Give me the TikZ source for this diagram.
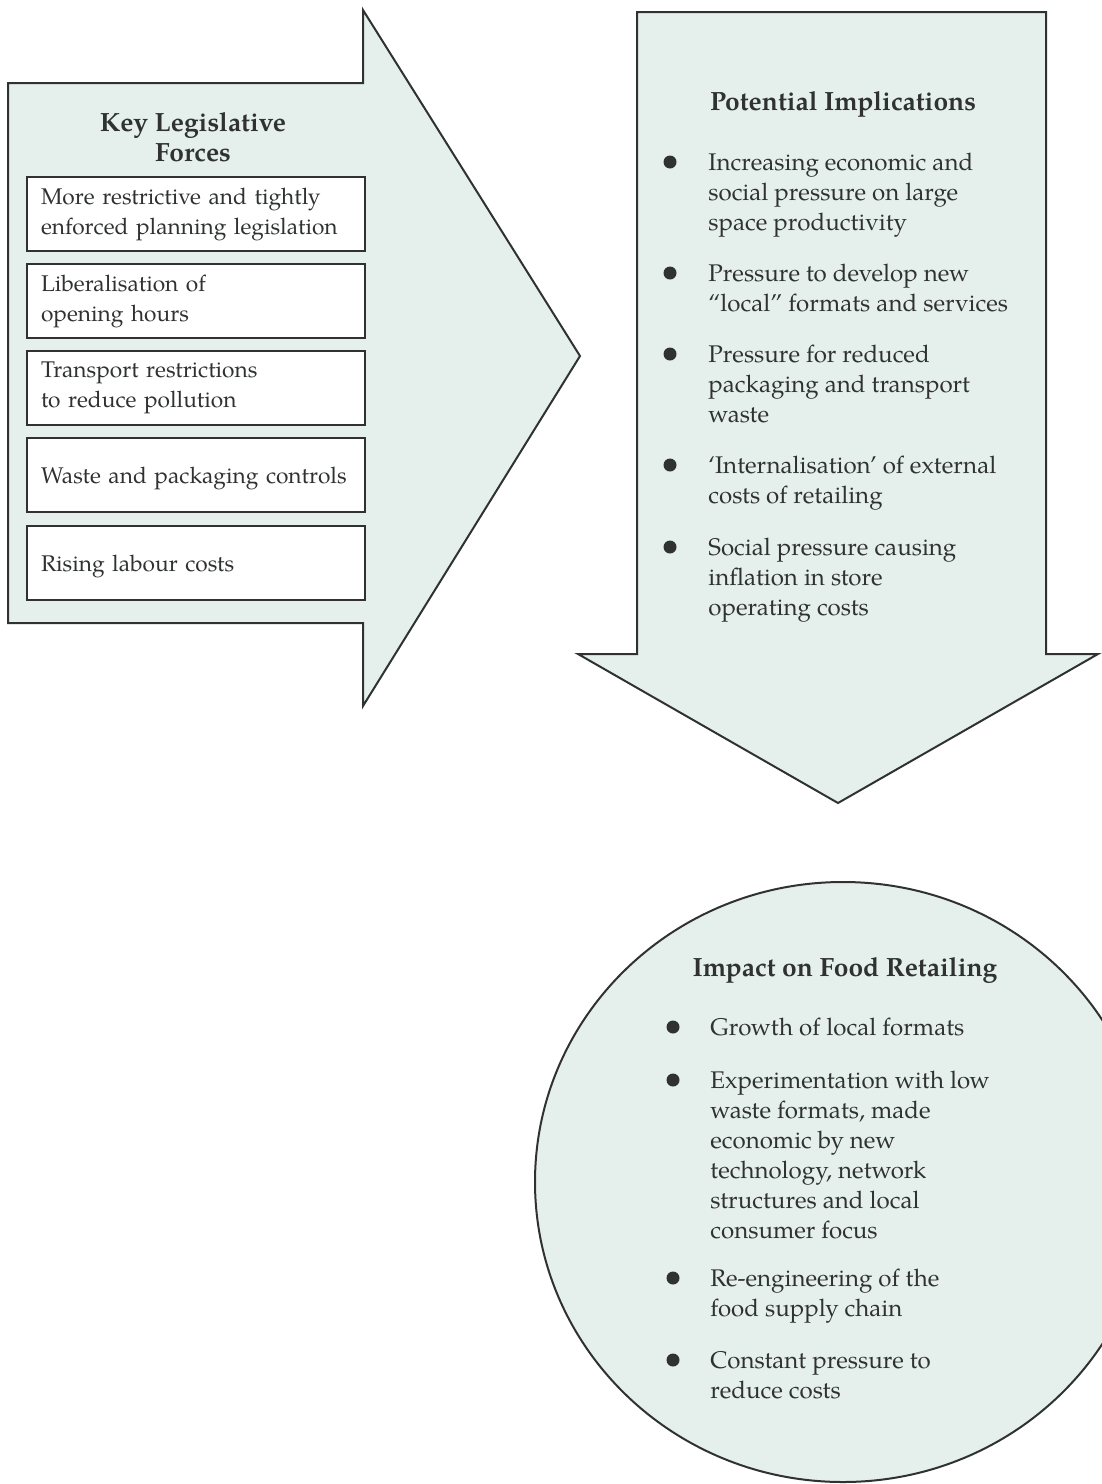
\documentclass[tikz,border=0pt]{standalone}
\usepackage{fontspec}
\setmainfont{TeX Gyre Pagella}
\usetikzlibrary{shapes.geometric}
\definecolor{panel}{RGB}{229,240,237}
\definecolor{ink}{RGB}{48,50,50}
\begin{document}
\begin{tikzpicture}[x=0.5pt,y=-0.5pt,
  panelshape/.style={draw=ink, line width=1pt, fill=panel, line join=miter},
  forcebox/.style={draw=ink, line width=1pt, fill=white, text=ink,
    font=\fontsize{11.35}{15}\selectfont, align=left,
    minimum width=169pt, minimum height=37pt, text width=155pt,
    inner xsep=7pt, inner ysep=0pt},
  onelinebox/.style={forcebox, text depth=0pt},
  txt/.style={text=ink, font=\fontsize{12.05}{15}\selectfont, align=left,
    inner sep=0pt, anchor=north west},
  ttl/.style={text=ink, font=\fontsize{13.2}{15}\selectfont\bfseries,
    align=center, inner sep=0pt},
  dot/.style={circle, fill=ink, inner sep=0pt, minimum size=6.5pt}]
\useasboundingbox (0,0) rectangle (1102,1484);
\fill[white] (0,0) rectangle (1102,1484);

% left arrow
\draw[panelshape] (8,83) -- (363,83) -- (363,10) -- (580,356) -- (363,706)
  -- (363,623) -- (8,623) -- cycle;
\node[ttl] (kt) at (193,137) {Key Legislative\\Forces};
\node[forcebox] (f1) at (196,214) {More restrictive and tightly\\enforced planning legislation};
\node[forcebox] (f2) at (196,301) {Liberalisation of\\opening hours};
\node[forcebox] (f3) at (196,388) {Transport restrictions\\to reduce pollution};
\node[onelinebox] (f4) at (196,475) {Waste and packaging controls};
\node[onelinebox] (f5) at (196,563) {Rising labour costs};

% down arrow
\draw[panelshape] (637,12) -- (1046,12) -- (1046,654) -- (1098,654)
  -- (838,803) -- (578,654) -- (637,654) -- cycle;
\node[ttl] (pt) at (843,104) {Potential Implications};
\node[dot] (pb1) at (670,162) {};
\node[txt] (p1) at (708,153) {Increasing economic and\\social pressure on large\\space productivity};
\node[dot] (pb2) at (670,273) {};
\node[txt] (p2) at (708,264) {Pressure to develop new\\“local” formats and services};
\node[dot] (pb3) at (670,354) {};
\node[txt] (p3) at (708,345) {Pressure for reduced\\packaging and transport\\waste};
\node[dot] (pb4) at (670,465) {};
\node[txt] (p4) at (708,456) {‘Internalisation’ of external\\costs of retailing};
\node[dot] (pb5) at (670,547) {};
\node[txt] (p5) at (708,538) {Social pressure causing\\inflation in store\\operating costs};

% circle
\node[panelshape, ellipse, minimum width=308pt, minimum height=300pt,
  inner sep=0pt] (circ) at (843,1182) {};
\node[ttl] (it) at (845,970) {Impact on Food Retailing};
\node[dot] (cb1) at (673,1027) {};
\node[txt] (c1) at (710,1018) {Growth of local formats};
\node[dot] (cb2) at (673,1080) {};
\node[txt] (c2) at (710,1071) {Experimentation with low\\waste formats, made\\economic by new\\technology, network\\structures and local\\consumer focus};
\node[dot] (cb3) at (673,1278) {};
\node[txt] (c3) at (710,1269) {Re-engineering of the\\food supply chain};
\node[dot] (cb4) at (673,1360) {};
\node[txt] (c4) at (710,1351) {Constant pressure to\\reduce costs};
\end{tikzpicture}
\end{document}
